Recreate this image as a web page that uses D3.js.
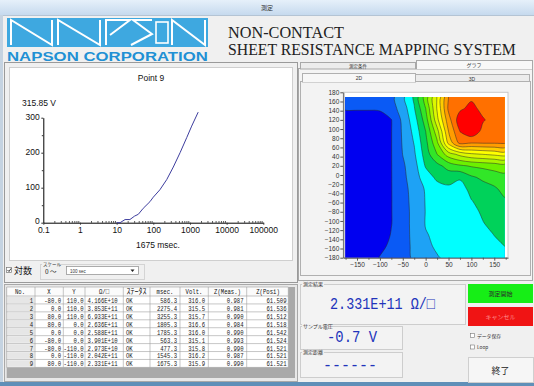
<!DOCTYPE html>
<html>
<head>
<meta charset="utf-8">
<script src="https://cdn.jsdelivr.net/npm/d3@7"></script>
<style>
  body { margin: 0; background: #fff; }
</style>
</head>
<body>
<div id="screen"></div>
<script>
// voltage curve of the current point (Point 9)
const curveMsec = [10, 12.4, 17, 23, 31, 39, 53, 81, 100, 151, 232, 351, 537, 815, 1114, 1675];
const curveVolt = [0, 0, 9, 9, 19, 24, 41, 60, 73, 94, 123, 159, 200, 243, 276, 315.85];
const voltTicks = [0, 100, 200, 300];
const voltMinor = [50, 150, 250];
const msecTicks = [0.1, 1, 10, 100, 1000, 10000, 100000];
const msecMinor = [0.2, 0.3, 0.4, 0.5, 0.6, 0.7, 0.8, 0.9, 2, 3, 4, 5, 6, 7, 8, 9,
  20, 30, 40, 50, 60, 70, 80, 90, 200, 300, 400, 500, 600, 700, 800, 900,
  2000, 3000, 4000, 5000, 6000, 7000, 8000, 9000, 20000, 30000, 40000, 50000, 60000, 70000, 80000, 90000];

// 2D map: level index on a 25 mm grid
const mapXTicks = [-150, -100, -50, 0, 50, 100, 150];
const mapXMinor = [-175, -125, -75, -25, 25, 75, 125, 175];
const mapYTicks = [180, 160, 140, 120, 100, 80, 60, 40, 20, 0, -20, -40, -60, -80, -100, -120, -140, -160, -180];
const mapGridX = [-175, -150, -125, -100, -75, -50, -25, 0, 25, 50, 75, 100, 125, 150, 175];
const mapGridY = [170, 145, 120, 95, 70, 45, 20, -5, -30, -55, -80, -105, -130, -155, -180];
const mapLevel = [
  [1.5, 1.5, 1.5, 1.5, 1.7, 2.77, 4.18, 6.5, 9.05, 12.0, 12.5, 12.8, 12.6, 12.4, 12.2],
  [1.1, 1.1, 1.1, 1.15, 1.6, 2.45, 3.93, 6.0, 9.1, 12.2, 12.8, 13.3, 12.7, 12.5, 12.3],
  [0.5, 0.5, 0.5, 0.5, 0.97, 2.24, 3.55, 5.5, 8.7, 11.6, 13.6, 14.0, 13.1, 12.6, 12.4],
  [0.5, 0.5, 0.5, 0.5, 0.97, 2.15, 3.27, 5.0, 7.6, 11.0, 13.02, 13.8, 12.7, 12.4, 12.2],
  [0.5, 0.5, 0.5, 0.5, 0.97, 2.1, 3.05, 4.7, 6.8, 10.3, 12.3, 12.05, 12.1, 12.1, 12.15],
  [0.5, 0.5, 0.5, 0.5, 0.97, 2.02, 2.85, 4.45, 6.0, 7.5, 8.3, 8.8, 9.0, 9.2, 9.4],
  [0.5, 0.5, 0.5, 0.5, 0.97, 1.85, 2.6, 4.1, 4.7, 5.4, 5.85, 6.1, 6.25, 6.4, 6.5],
  [0.5, 0.5, 0.5, 0.5, 0.97, 1.75, 2.55, 3.5, 4.22, 4.42, 4.13, 4.85, 5.2, 5.5, 5.7],
  [0.5, 0.5, 0.5, 0.5, 0.97, 1.65, 2.4, 3.1, 3.6, 3.8, 3.6, 4.3, 4.6, 4.85, 5.35],
  [0.5, 0.5, 0.5, 0.5, 0.97, 1.6, 2.35, 3.05, 3.35, 3.5, 3.6, 3.98, 4.3, 4.6, 4.9],
  [0.5, 0.5, 0.5, 0.5, 0.97, 1.58, 2.3, 3.03, 3.25, 3.35, 3.5, 3.8, 4.1, 4.4, 4.7],
  [0.5, 0.5, 0.5, 0.5, 0.97, 1.58, 2.3, 3.05, 3.2, 3.3, 3.4, 3.6, 3.97, 4.2, 4.5],
  [0.5, 0.5, 0.5, 0.5, 1.05, 1.55, 2.3, 2.95, 3.15, 3.25, 3.35, 3.5, 3.7, 4.02, 4.25],
  [0.5, 0.5, 0.5, 0.75, 1.2, 1.55, 2.25, 2.85, 3.1, 3.2, 3.3, 3.45, 3.6, 3.8, 4.02],
  [0.5, 0.5, 0.5, 1.05, 1.4, 1.55, 2.2, 2.5, 2.95, 3.15, 3.3, 3.4, 3.5, 3.6, 3.7]
];
const levelColors = ['#0000f0', '#0a5af5', '#1ea2f5', '#00ffff', '#00d25a', '#32e628', '#6cf000',
  '#a8f500', '#dcf800', '#ffff00', '#ffcc00', '#ff9d00', '#ff7000', '#ff0000'];

// measurement table
const tableHeaders = ['No.', 'X', 'Y', 'Ω/□', 'ｽﾃｰﾀｽ', 'msec.', 'Volt.', 'Z(Meas.)', 'Z(Posi)'];
const pointNo = [1, 2, 3, 4, 5, 6, 7, 8, 9];
const pointX = [-80, 0, 80, 80, 0, -80, -80, 0, 80];
const pointY = [110, 110, 110, 0, 0, 0, -110, -110, -110];
const sheetRes = ['4.166E+10', '3.853E+11', '6.933E+11', '2.636E+11', '2.588E+11', '3.901E+10', '2.973E+10', '2.042E+11', '2.331E+11'];
const statusText = ['OK', 'OK', 'OK', 'OK', 'OK', 'OK', 'OK', 'OK', 'OK'];
const msecVals = [586.3, 2275.4, 3255.3, 1805.3, 1785.3, 563.3, 477.3, 1545.3, 1675.3];
const voltVals = [316.0, 315.5, 315.7, 316.6, 316.0, 315.1, 315.8, 316.2, 315.9];
const zMeas = [0.987, 0.981, 0.990, 0.984, 0.990, 0.993, 0.990, 0.987, 0.990];
const zPosi = [61.509, 61.536, 61.512, 61.518, 61.542, 61.524, 61.521, 61.521, 61.521];

const SANS = '"Liberation Sans", Arial, sans-serif';
const JP = '"Noto Sans CJK JP", sans-serif';
const MONO = '"Liberation Mono", "DejaVu Sans Mono", monospace';
const SERIF = '"Liberation Serif", "Times New Roman", serif';

const svg = d3.select('#screen').append('svg').attr('width', 534).attr('height', 386)
  .attr('font-family', SANS);

// narrow a text horizontally (the original UI font is narrower), by a factor or to a width
function squeeze(sel, k, fixedWidth) {
  sel.each(function () {
    const t = d3.select(this);
    const s = fixedWidth ? fixedWidth / this.getComputedTextLength() : k;
    const x0 = +t.attr('x'), y0 = +t.attr('y');
    t.attr('x', 0).attr('y', 0).attr('transform', `translate(${x0},${y0}) scale(${s},1)`);
  });
}

function label(g, x, y, str, size, opts = {}) {
  return g.append('text').attr('x', x).attr('y', y).text(str)
    .attr('font-size', size)
    .attr('font-family', opts.font || null)
    .attr('fill', opts.fill || '#222')
    .attr('text-anchor', opts.anchor || 'start')
    .attr('font-weight', opts.weight || null);
}

// ---------- window frame ----------
const defs = svg.append('defs');
const tg = defs.append('linearGradient').attr('id', 'titleGrad').attr('x1', 0).attr('y1', 0).attr('x2', 0).attr('y2', 1);
tg.append('stop').attr('offset', 0).attr('stop-color', '#e6f0fa');
tg.append('stop').attr('offset', 1).attr('stop-color', '#c6daee');

svg.append('rect').attr('width', 534).attr('height', 386).attr('fill', '#f0f0f0');
svg.append('rect').attr('x', 0).attr('y', 0).attr('width', 534).attr('height', 15).attr('fill', 'url(#titleGrad)');
svg.append('line').attr('x1', 0).attr('x2', 534).attr('y1', 15.5).attr('y2', 15.5).attr('stroke', '#b4c4d4');
label(svg, 267, 10, '測定', 6, { font: JP, anchor: 'middle', fill: '#333' });
svg.append('rect').attr('x', 0).attr('y', 15).attr('width', 3).attr('height', 371).attr('fill', '#c5d3e1');
svg.append('rect').attr('x', 0).attr('y', 382).attr('width', 534).attr('height', 4).attr('fill', '#5f8fb8');

// ---------- logo ----------
const logo = svg.append('g');
logo.append('rect').attr('x', 7).attr('y', 18).attr('width', 201).attr('height', 29).attr('fill', '#3ea8e0');
const logoStroke = [
  'M11,45 V20 L52,45 V20',
  'M58,45 V20 L100,45 V20',
  'M106,45 V20 H130 L110,35',
  'M152,20 H133 L152,34 L131,45',
  'M172,45 V20 L205,45 V20'
];
logo.selectAll('path').data(logoStroke).join('path').attr('d', d => d)
  .attr('fill', 'none').attr('stroke', '#fff').attr('stroke-width', 2);
logo.append('rect').attr('x', 156).attr('y', 22).attr('width', 12).attr('height', 21)
  .attr('fill', 'none').attr('stroke', '#fff').attr('stroke-width', 1.6);
squeeze(label(logo, 7, 61, 'NAPSON CORPORATION', 13.5, { weight: 'bold', fill: '#2190d4' }), 1, 201);

squeeze(label(svg, 228, 38, 'NON-CONTACT', 16.5, { fill: '#222', font: SERIF }), 1, 116);
squeeze(label(svg, 228, 55, 'SHEET RESISTANCE MAPPING SYSTEM', 16.5, { fill: '#222', font: SERIF }), 1, 288);

// ---------- left: voltage curve ----------
const left = svg.append('g');
left.append('rect').attr('x', 4.5).attr('y', 62.5).attr('width', 293).attr('height', 220)
  .attr('fill', '#f0f0f0').attr('stroke', '#9a9a9a');
left.append('rect').attr('x', 9.5).attr('y', 67.5).attr('width', 283).attr('height', 193)
  .attr('fill', '#fff').attr('stroke', '#cfcfcf');

const x = d3.scaleLog().domain([0.1, 100000]).range([43.3, 263.3]);
const y = d3.scaleLinear().domain([0, 300]).range([222.7, 117.7]);

label(left, 151, 81, 'Point 9', 8.5, { anchor: 'middle', fill: '#111' });
label(left, 22, 106, '315.85 V', 8.5, { fill: '#111' });
label(left, 158, 248, '1675 msec.', 8.5, { anchor: 'middle', fill: '#111' });

const yAxis = left.append('g').attr('transform', 'translate(43.3,0)')
  .call(d3.axisLeft(y).tickValues(voltTicks).tickSize(2).tickPadding(1.5).tickSizeOuter(0).tickFormat(d3.format('d')));
left.append('g').attr('transform', 'translate(43.3,0)')
  .call(d3.axisLeft(y).tickValues(voltMinor).tickSize(1.5).tickFormat('').tickSizeOuter(0))
  .select('.domain').remove();
const xAxis = left.append('g').attr('transform', 'translate(0,222.7)')
  .call(d3.axisBottom(x).tickValues(msecTicks).tickSize(2).tickPadding(2).tickSizeOuter(0).tickFormat(d => String(d)));
left.append('g').attr('transform', 'translate(0,222.7)')
  .call(d3.axisTop(x).tickValues(msecMinor).tickSize(1.5).tickFormat('').tickSizeOuter(0))
  .select('.domain').remove();
[yAxis, xAxis].forEach(a => {
  a.attr('font-family', null).attr('font-size', 8.5);
  a.selectAll('text').attr('fill', '#111');
});
yAxis.selectAll('text').attr('dy', d => d === 0 ? '0.08em' : '0.25em');
left.selectAll('.tick line').attr('stroke', '#333');

const curve = d3.line().x(d => x(d[0])).y(d => y(d[1]));
left.append('path').datum(d3.zip(curveMsec, curveVolt)).attr('d', curve)
  .attr('fill', 'none').attr('stroke', '#3d3d9e').attr('stroke-width', 1);

// log / scale controls
left.append('rect').attr('x', 6.5).attr('y', 267.5).attr('width', 5).attr('height', 5).attr('fill', '#fff').attr('stroke', '#777').attr('stroke-width', 0.7);
left.append('path').attr('d', 'M7.5,270 L9,271.5 L11,268.5').attr('fill', 'none').attr('stroke', '#222').attr('stroke-width', 0.9);
label(left, 14, 274, '対数', 9, { font: JP, fill: '#111' });
left.append('rect').attr('x', 40.5).attr('y', 264.5).attr('width', 104).attr('height', 15).attr('fill', 'none').attr('stroke', '#d4d4d4');
left.append('rect').attr('x', 42).attr('y', 262).attr('width', 15).attr('height', 4).attr('fill', '#f0f0f0');
label(left, 43, 266, 'スケール', 4.5, { font: JP, fill: '#333' });
label(left, 45, 274, '0 〜', 6.5, { font: JP, fill: '#222' });
left.append('rect').attr('x', 66.5).attr('y', 266.5).attr('width', 72).attr('height', 8).attr('fill', '#fff').attr('stroke', '#8a8a8a').attr('stroke-width', 0.7);
label(left, 70, 272.5, '100 sec', 4.5, { fill: '#333' });
left.append('path').attr('d', 'M130.5,269.5 L134.5,269.5 L132.5,272 Z').attr('fill', '#222');

// ---------- table ----------
const table = svg.append('g');
table.append('rect').attr('x', 4.5).attr('y', 284.5).attr('width', 293).attr('height', 97).attr('fill', '#e8e8e8').attr('stroke', '#a8a8a8');
table.append('rect').attr('x', 6.7).attr('y', 287).attr('width', 288.3).attr('height', 91).attr('fill', '#a9a9a9');
const colEdges = [6.7, 35, 63.3, 85, 123.3, 150, 180, 208.3, 246.7, 288.3];
const row = d3.scaleBand().domain(pointNo).range([296, 367.4]);

table.append('rect').attr('x', 6.7).attr('y', 287).attr('width', 281.6).attr('height', 9).attr('fill', '#fbfbfb');
table.append('rect').attr('x', 6.7).attr('y', 296).attr('width', 281.6).attr('height', 71.4).attr('fill', '#fff');
table.selectAll('.nocell').data(pointNo).join('rect')
  .attr('x', 7).attr('y', d => row(d) + 0.5).attr('width', 27.5).attr('height', row.bandwidth() - 1)
  .attr('fill', '#e6e6e6').attr('stroke', '#fafafa').attr('stroke-width', 0.6);
table.selectAll('.hline').data([287, ...pointNo.map(d => row(d)), 367.4]).join('line')
  .attr('x1', 6.7).attr('x2', 288.3).attr('y1', d => d).attr('y2', d => d)
  .attr('stroke', '#a0a0a0').attr('stroke-width', 0.6);
table.selectAll('.vline').data(colEdges).join('line')
  .attr('x1', d => d).attr('x2', d => d).attr('y1', 287).attr('y2', 367.4)
  .attr('stroke', '#a0a0a0').attr('stroke-width', 0.6);

const headerX = [20, 49, 74, 104, 136.5, 165, 194, 227.5, 268];
tableHeaders.forEach((h, i) => {
  squeeze(label(table, headerX[i], 294.3, h, 8, { anchor: 'middle', fill: '#111', font: i === 4 ? JP : MONO }), i === 4 ? 1 : 0.7);
});

const f1 = d3.format('.1f'), f3 = d3.format('.3f');
const columns = [
  { v: pointNo.map(String), x: 33, anchor: 'end' },
  { v: pointX.map(f1), x: 61, anchor: 'end' },
  { v: pointY.map(f1), x: 83.5, anchor: 'end' },
  { v: sheetRes, x: 87.5, anchor: 'start' },
  { v: statusText, x: 126, anchor: 'start' },
  { v: msecVals.map(f1), x: 177, anchor: 'end' },
  { v: voltVals.map(f1), x: 205, anchor: 'end' },
  { v: zMeas.map(f3), x: 243.5, anchor: 'end' },
  { v: zPosi.map(f3), x: 286.5, anchor: 'end' }
];
columns.forEach(c => {
  const t = table.selectAll(null).data(pointNo).join('text')
    .attr('x', c.x).attr('y', d => row(d) + 6.9)
    .attr('text-anchor', c.anchor).attr('font-size', 8).attr('font-family', MONO).attr('fill', '#1a1a1a')
    .text((d, i) => c.v[i].replace('−', '-'));
  squeeze(t, 0.7);
});

// ---------- right: tabs and 2D map ----------
const right = svg.append('g');
right.append('rect').attr('x', 298.5).attr('y', 68.5).attr('width', 234).attr('height', 212).attr('fill', '#f4f4f4').attr('stroke', '#a8a8a8');
right.append('rect').attr('x', 300.5).attr('y', 62.5).attr('width', 115).attr('height', 6.5).attr('fill', '#ececec').attr('stroke', '#a8a8a8');
right.append('rect').attr('x', 416.5).attr('y', 60.5).attr('width', 116).attr('height', 8.5).attr('fill', '#f8f8f8').attr('stroke', '#a8a8a8');
right.append('line').attr('x1', 417).attr('x2', 532).attr('y1', 68.5).attr('y2', 68.5).attr('stroke', '#f8f8f8');
label(right, 358, 67.7, '測定条件', 4.5, { font: JP, anchor: 'middle', fill: '#333' });
label(right, 474, 66.8, 'グラフ', 5, { font: JP, anchor: 'middle', fill: '#333' });
right.append('rect').attr('x', 300.5).attr('y', 81.5).attr('width', 230).attr('height', 194).attr('fill', '#f3f3f3').attr('stroke', '#b0b0b0');
right.append('rect').attr('x', 302.5).attr('y', 73.5).attr('width', 113).attr('height', 8.5).attr('fill', '#f7f7f7').attr('stroke', '#b0b0b0');
right.append('rect').attr('x', 415.5).attr('y', 74.5).attr('width', 114).attr('height', 7).attr('fill', '#ececec').attr('stroke', '#b0b0b0');
right.append('line').attr('x1', 303).attr('x2', 415).attr('y1', 81.5).attr('y2', 81.5).attr('stroke', '#f7f7f7');
label(right, 359, 80, '2D', 5, { anchor: 'middle', fill: '#333' });
label(right, 472, 80.5, '3D', 5, { anchor: 'middle', fill: '#333' });

const mx = d3.scaleLinear().domain([-180, 180]).range([343.3, 508]);
const my = d3.scaleLinear().domain([-180, 180]).range([257.7, 92.3]);
right.append('rect').attr('x', mx(-180)).attr('y', my(180)).attr('width', mx(180) - mx(-180)).attr('height', my(-180) - my(180))
  .attr('fill', '#fff').attr('stroke', '#c8c8c8');

defs.append('clipPath').attr('id', 'mapClip').append('rect')
  .attr('x', mx(-176)).attr('y', my(170)).attr('width', mx(173) - mx(-176)).attr('height', my(-180) - my(170));

// contour grid coordinates: sample i sits at i + 0.5
const nx = mapGridX.length, ny = mapGridY.length;
const gx = d3.scaleLinear().domain([0.5, nx - 0.5]).range([mx(mapGridX[0]), mx(mapGridX[nx - 1])]);
const gy = d3.scaleLinear().domain([0.5, ny - 0.5]).range([my(mapGridY[0]), my(mapGridY[ny - 1])]);
const bands = d3.contours().size([nx, ny]).thresholds(d3.range(0, levelColors.length))(mapLevel.flat());
const ringLine = d3.line().x(p => gx(p[0])).y(p => gy(p[1])).curve(d3.curveCatmullRomClosed.alpha(0.5));
const bandPath = mp => mp.coordinates.map(poly => poly.map(ring => ringLine(ring.slice(0, -1))).join('')).join('');
right.append('g').attr('clip-path', 'url(#mapClip)')
  .selectAll('path').data(bands).join('path')
  .attr('d', bandPath)
  .attr('fill-rule', 'evenodd')
  .attr('fill', d => levelColors[d.value])
  .attr('stroke', (d, i) => i === 0 ? 'none' : '#2a2a2a')
  .attr('stroke-width', 0.5);

const minusFmt = d => d < 0 ? '−' + (-d) : String(d);
const mapYAxis = right.append('g').attr('transform', `translate(${mx(-180)},0)`)
  .call(d3.axisLeft(my).tickValues(mapYTicks).tickSize(3).tickPadding(1).tickSizeOuter(0).tickFormat(minusFmt));
const mapXAxis = right.append('g').attr('transform', `translate(0,${my(-180)})`)
  .call(d3.axisBottom(mx).tickValues(mapXTicks).tickSize(3).tickPadding(2).tickSizeOuter(0).tickFormat(minusFmt));
right.append('g').attr('transform', `translate(0,${my(-180)})`)
  .call(d3.axisBottom(mx).tickValues(mapXMinor).tickSize(2).tickFormat('').tickSizeOuter(0))
  .select('.domain').remove();
[mapYAxis, mapXAxis].forEach(a => {
  a.attr('font-family', null).attr('font-size', 6.5);
  a.selectAll('text').attr('fill', '#333');
  a.select('.domain').attr('stroke', '#555');
});
right.selectAll('.tick line').attr('stroke', '#555');

// ---------- result boxes and buttons ----------
const res = svg.append('g');
function groupBox(x0, y0, w, h, title, tw) {
  res.append('rect').attr('x', x0 + 0.5).attr('y', y0 + 0.5).attr('width', w).attr('height', h)
    .attr('fill', '#f3f3f3').attr('stroke', '#cdcdcd');
  res.append('rect').attr('x', x0 + 2).attr('y', y0 - 2).attr('width', tw).attr('height', 4).attr('fill', '#f0f0f0');
  label(res, x0 + 3, y0 + 2.2, title, 5, { font: JP, fill: '#333' });
}
groupBox(300, 284, 165, 40, '測定結果', 22);
groupBox(300, 326, 102, 23, 'サンプル電圧', 30);
groupBox(300, 352, 102, 25, '測定距離', 22);
squeeze(label(res, 330, 309, '2.331E+11 Ω/□', 16.5, { font: MONO, fill: '#2233bb' }), 1, 105);
squeeze(label(res, 327, 342, '-0.7 V', 17, { font: MONO, fill: '#2233bb' }), 1, 50);
squeeze(label(res, 323, 370, '------', 17, { font: MONO, fill: '#2233bb' }), 1, 54);

res.append('rect').attr('x', 468).attr('y', 284).attr('width', 65).attr('height', 19).attr('fill', '#16ee16');
label(res, 500.5, 296, '測定開始', 6, { font: JP, anchor: 'middle', fill: '#2a2a2a' });
res.append('rect').attr('x', 468).attr('y', 307).attr('width', 65).attr('height', 19).attr('fill', '#f01414');
label(res, 500.5, 319, 'キャンセル', 6, { font: JP, anchor: 'middle', fill: '#ff8c8c' });

[['データ保存', 336], ['Loop', 347.5]].forEach(([t, cy]) => {
  res.append('rect').attr('x', 470.5).attr('y', cy - 2.5).attr('width', 4).attr('height', 4).attr('fill', '#fff').attr('stroke', '#777').attr('stroke-width', 0.6);
  label(res, 477, cy + 1.6, t, 4.8, { font: JP, fill: '#333' });
});

res.append('rect').attr('x', 468.5).attr('y', 357.5).attr('width', 65).attr('height', 25).attr('fill', '#f6f6f6').attr('stroke', '#cfcfcf');
label(res, 500.5, 373.5, '終了', 9, { font: JP, anchor: 'middle', fill: '#222' });
</script>
</body>
</html>
